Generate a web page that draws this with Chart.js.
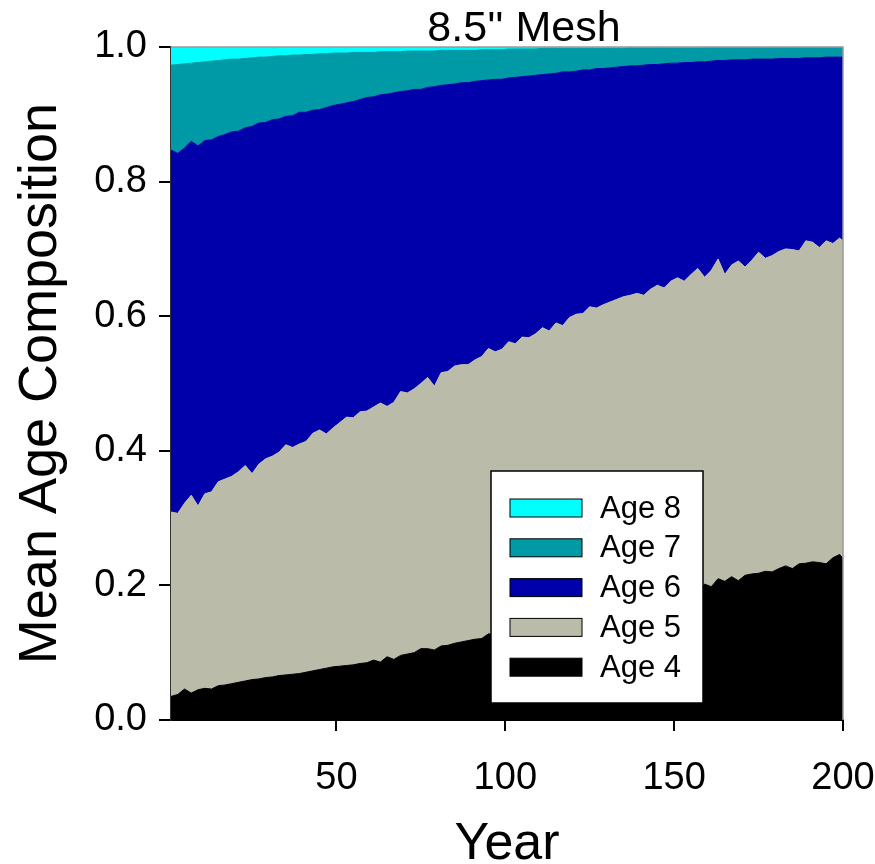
<!DOCTYPE html>
<html lang="en">
<head>
    <meta charset="UTF-8">
    <title>8.5" Mesh - Mean Age Composition</title>
    <script src="https://cdn.jsdelivr.net/npm/chart.js"></script>
    <style>
        body { margin: 0; background: #fff; }
        .container { width: 875px; height: 864px; }
    </style>
</head>
<body>
    <div class="container">
        <canvas id="ageChart" width="875" height="864"></canvas>
    </div>

    <script>
        // year of simulation (every 2nd year + final year)
        const years = [
            1, 3, 5, 7, 9, 11, 13, 15, 17, 19,
            21, 23, 25, 27, 29, 31, 33, 35, 37, 39,
            41, 43, 45, 47, 49, 51, 53, 55, 57, 59,
            61, 63, 65, 67, 69, 71, 73, 75, 77, 79,
            81, 83, 85, 87, 89, 91, 93, 95, 97, 99,
            101, 103, 105, 107, 109, 111, 113, 115, 117, 119,
            121, 123, 125, 127, 129, 131, 133, 135, 137, 139,
            141, 143, 145, 147, 149, 151, 153, 155, 157, 159,
            161, 163, 165, 167, 169, 171, 173, 175, 177, 179,
            181, 183, 185, 187, 189, 191, 193, 195, 197, 199,
            200
        ];

        // cumulative proportion at the top of each age band
        const age4Top = [
            0.035, 0.038, 0.046, 0.040, 0.045, 0.047, 0.046, 0.051, 0.052, 0.054,
            0.056, 0.058, 0.060, 0.061, 0.063, 0.064, 0.066, 0.067, 0.068, 0.069,
            0.071, 0.073, 0.075, 0.077, 0.079, 0.080, 0.081, 0.082, 0.084, 0.085,
            0.089, 0.086, 0.094, 0.090, 0.096, 0.098, 0.100, 0.106, 0.106, 0.104,
            0.110, 0.111, 0.114, 0.116, 0.118, 0.120, 0.121, 0.128, 0.127, 0.130,
            0.132, 0.133, 0.136, 0.137, 0.140, 0.142, 0.143, 0.146, 0.148, 0.150,
            0.151, 0.154, 0.156, 0.158, 0.160, 0.161, 0.164, 0.166, 0.168, 0.170,
            0.172, 0.174, 0.177, 0.178, 0.181, 0.183, 0.185, 0.188, 0.190, 0.202,
            0.198, 0.210, 0.206, 0.213, 0.207, 0.215, 0.217, 0.218, 0.221, 0.220,
            0.225, 0.229, 0.225, 0.232, 0.233, 0.235, 0.234, 0.232, 0.241, 0.246,
            0.240
        ];
        const age5Top = [
            0.309, 0.307, 0.322, 0.334, 0.318, 0.336, 0.339, 0.354, 0.358, 0.362,
            0.369, 0.378, 0.366, 0.380, 0.388, 0.392, 0.398, 0.409, 0.405, 0.410,
            0.414, 0.426, 0.431, 0.425, 0.434, 0.442, 0.450, 0.449, 0.458, 0.459,
            0.465, 0.471, 0.466, 0.472, 0.488, 0.486, 0.492, 0.500, 0.509, 0.496,
            0.516, 0.518, 0.526, 0.528, 0.528, 0.535, 0.540, 0.552, 0.547, 0.551,
            0.562, 0.559, 0.569, 0.568, 0.574, 0.583, 0.578, 0.590, 0.586, 0.598,
            0.603, 0.604, 0.614, 0.612, 0.617, 0.621, 0.625, 0.629, 0.631, 0.634,
            0.631, 0.640, 0.646, 0.642, 0.652, 0.657, 0.652, 0.662, 0.671, 0.658,
            0.668, 0.685, 0.662, 0.676, 0.682, 0.673, 0.683, 0.695, 0.686, 0.690,
            0.696, 0.700, 0.699, 0.697, 0.712, 0.710, 0.702, 0.712, 0.708, 0.716,
            0.712
        ];
        const age6Top = [
            0.847, 0.842, 0.850, 0.860, 0.853, 0.861, 0.862, 0.867, 0.870, 0.874,
            0.875, 0.880, 0.882, 0.887, 0.888, 0.892, 0.893, 0.897, 0.898, 0.903,
            0.903, 0.906, 0.907, 0.910, 0.913, 0.915, 0.917, 0.919, 0.922, 0.925,
            0.926, 0.929, 0.930, 0.932, 0.934, 0.935, 0.937, 0.937, 0.940, 0.941,
            0.943, 0.944, 0.945, 0.947, 0.947, 0.949, 0.950, 0.951, 0.952, 0.952,
            0.954, 0.955, 0.956, 0.957, 0.958, 0.959, 0.960, 0.961, 0.963, 0.963,
            0.964, 0.966, 0.966, 0.968, 0.968, 0.969, 0.970, 0.971, 0.972, 0.972,
            0.973, 0.974, 0.974, 0.975, 0.976, 0.976, 0.977, 0.977, 0.978, 0.978,
            0.979, 0.980, 0.980, 0.981, 0.981, 0.981, 0.982, 0.982, 0.982, 0.982,
            0.983, 0.983, 0.983, 0.983, 0.984, 0.984, 0.984, 0.985, 0.985, 0.985,
            0.985
        ];
        const age7Top = [
            0.973, 0.974, 0.975, 0.976, 0.977, 0.978, 0.979, 0.980, 0.981, 0.982,
            0.982, 0.983, 0.984, 0.985, 0.985, 0.986, 0.987, 0.987, 0.988, 0.988,
            0.989, 0.989, 0.990, 0.990, 0.991, 0.991, 0.991, 0.992, 0.992, 0.992,
            0.992, 0.993, 0.993, 0.993, 0.993, 0.994, 0.994, 0.994, 0.994, 0.994,
            0.995, 0.995, 0.995, 0.995, 0.995, 0.995, 0.996, 0.996, 0.996, 0.996,
            0.997, 0.997, 0.997, 0.997, 0.997, 0.998, 0.998, 0.998, 0.998, 0.998,
            0.998, 0.998, 0.998, 0.998, 0.998, 0.998, 0.998, 0.998, 0.999, 0.999,
            0.999, 0.999, 0.999, 0.999, 0.999, 0.999, 0.999, 0.999, 0.999, 0.999,
            1.000, 1.000, 1.000, 1.000, 1.000, 1.000, 1.000, 1.000, 1.000, 1.000,
            1.000, 1.000, 1.000, 1.000, 1.000, 1.000, 1.000, 1.000, 1.000, 1.000,
            1.000
        ];

        const ageLabels = ['Age 4', 'Age 5', 'Age 6', 'Age 7', 'Age 8'];
        const ageColors = ['#000000', '#BBBBAA', '#0000AA', '#0099A6', '#00FFFF'];
        const xTicks = [50, 100, 150, 200];
        const yTicks = [0, 0.2, 0.4, 0.6, 0.8, 1.0];

        const FONT = "'Liberation Sans', Arial, sans-serif";

        function points(tops) {
            return years.map((yr, i) => ({ x: yr, y: tops[i] }));
        }

        // each band fills down to the band below it; Age 8 fills up to 1.0
        const bands = [age4Top, age5Top, age6Top, age7Top, age7Top];
        const fills = ['origin', '-1', '-1', '-1', 'end'];

        const datasets = ageLabels.map((label, i) => ({
            label: label,
            data: points(bands[i]),
            backgroundColor: ageColors[i],
            borderColor: ageColors[i],
            borderWidth: i === 4 ? 0 : 1,
            pointRadius: 0,
            tension: 0,
            fill: fills[i]
        }));

        // boxed legend inside the plot, plus the title and plot frame
        const extras = {
            id: 'extras',
            afterDraw(chart) {
                const ctx = chart.ctx;
                const area = chart.chartArea;
                ctx.save();

                // top and right frame lines
                ctx.strokeStyle = '#999999';
                ctx.lineWidth = 1.5;
                ctx.beginPath();
                ctx.moveTo(area.left, area.top);
                ctx.lineTo(area.right, area.top);
                ctx.lineTo(area.right, area.bottom);
                ctx.stroke();

                // title
                ctx.fillStyle = '#000';
                ctx.font = '43px ' + FONT;
                ctx.textAlign = 'center';
                ctx.textBaseline = 'alphabetic';
                ctx.fillText("8.5'' Mesh", 524, 41);

                // legend
                const box = { left: 491, top: 471, width: 212, height: 232 };
                ctx.fillStyle = '#fff';
                ctx.fillRect(box.left, box.top, box.width, box.height);
                ctx.strokeStyle = '#000';
                ctx.lineWidth = 1.5;
                ctx.strokeRect(box.left, box.top, box.width, box.height);

                ctx.font = '31px ' + FONT;
                ctx.textAlign = 'left';
                ctx.textBaseline = 'middle';
                for (let row = 0; row < 5; row++) {
                    const i = 4 - row;
                    const cy = 508 + row * 39.8;
                    ctx.fillStyle = ageColors[i];
                    ctx.fillRect(510, cy - 9, 72, 18);
                    ctx.lineWidth = 1;
                    ctx.strokeStyle = '#000';
                    ctx.strokeRect(510, cy - 9, 72, 18);
                    ctx.fillStyle = '#000';
                    ctx.fillText(ageLabels[i], 600, cy + 1);
                }
                ctx.restore();
            }
        };

        const ctx = document.getElementById('ageChart').getContext('2d');
        new Chart(ctx, {
            type: 'line',
            data: { datasets: datasets },
            options: {
                responsive: false,
                animation: false,
                events: [],
                layout: { padding: { top: 47, right: 32, left: 0, bottom: 0 } },
                plugins: {
                    legend: { display: false },
                    title: { display: false },
                    tooltip: { enabled: false }
                },
                scales: {
                    x: {
                        type: 'linear',
                        min: 1,
                        max: 200,
                        afterFit(scale) {
                            scale.height = 144;
                            // let the "200" label run past the plot edge
                            scale.paddingLeft = 0;
                            scale.paddingRight = 0;
                        },
                        afterBuildTicks(scale) { scale.ticks = xTicks.map(v => ({ value: v })); },
                        grid: {
                            drawOnChartArea: false,
                            drawTicks: true,
                            tickLength: 11,
                            color: '#000',
                            lineWidth: 2
                        },
                        border: { display: true, color: '#000', width: 2 },
                        ticks: {
                            color: '#000',
                            font: { family: FONT, size: 38 },
                            padding: 25,
                            maxRotation: 0
                        },
                        title: {
                            display: true,
                            text: 'Year',
                            color: '#000',
                            font: { family: FONT, size: 52, lineHeight: 0.75 },
                            padding: { top: 0, bottom: 0 }
                        }
                    },
                    y: {
                        min: 0,
                        max: 1,
                        afterFit(scale) { scale.width = 171; },
                        afterBuildTicks(scale) { scale.ticks = yTicks.map(v => ({ value: v })); },
                        grid: {
                            drawOnChartArea: false,
                            drawTicks: true,
                            tickLength: 12,
                            color: '#000',
                            lineWidth: 2
                        },
                        border: { display: true, color: '#333', width: 1.5 },
                        ticks: {
                            color: '#000',
                            font: { family: FONT, size: 38 },
                            padding: 12,
                            callback: v => v.toFixed(1)
                        },
                        title: {
                            display: true,
                            text: 'Mean Age Composition',
                            color: '#000',
                            font: { family: FONT, size: 54, lineHeight: 1 },
                            padding: { top: 14, bottom: 0 }
                        }
                    }
                }
            },
            plugins: [extras]
        });
    </script>
</body>
</html>
